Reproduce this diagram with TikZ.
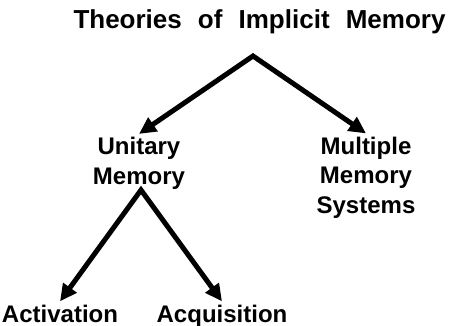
\documentclass[tikz,border=0pt]{standalone}
\usepackage{fontspec}
\setmainfont{Liberation Sans}
\usetikzlibrary{arrows.meta}
\newcommand{\titlefont}{\bfseries\fontsize{26}{29.5}\selectfont\spaceskip=0.62em\relax}
\tikzset{
  lbl/.style={font=\bfseries\fontsize{24}{29.5}\selectfont, align=center, inner sep=3pt, anchor=base},
  link/.style={black, line width=5pt, line join=miter, <->, >={Triangle[length=17pt,width=16pt]}},
}

\begin{document}
\begin{tikzpicture}[x=1pt, y=-1pt]
\useasboundingbox (0,0) rectangle (450,325);
\node[lbl, font=\titlefont] (theories) at (259.5,28) {Theories of Implicit Memory};
% base of a two-line label is its last line
\node[lbl] (unitary) at (139,184) {Unitary\\Memory};
\node[lbl] (multiple) at (366,213) {Multiple\\Memory\\Systems};
\node[lbl] (activation) at (60,322) {Activation};
\node[lbl] (acquisition) at (222,322) {Acquisition};
% split points under the labels
\coordinate (tsplit) at (253,56);
\coordinate (usplit) at (141,190);
\draw[link] (unitary.north) -- (tsplit) -- (multiple.north);
\draw[link] (activation.north) -- (usplit) -- (acquisition.north);
\end{tikzpicture}
\end{document}
